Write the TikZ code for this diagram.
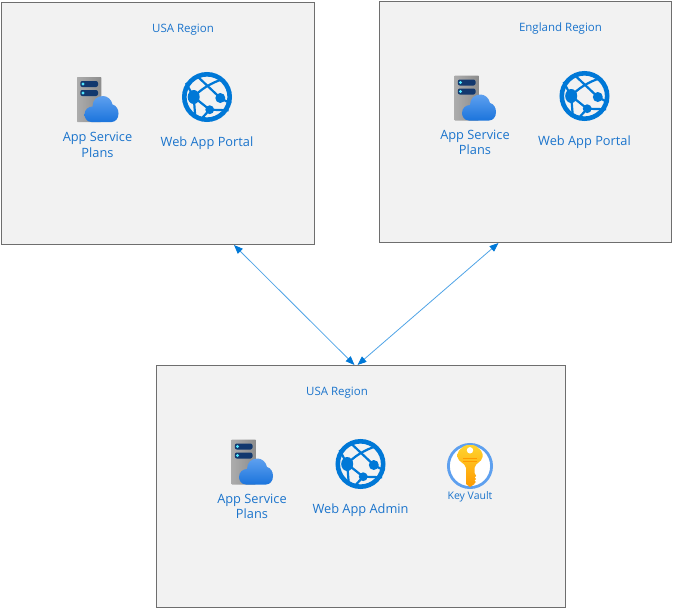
\documentclass[tikz,border=0pt]{standalone}
\usepackage{fontspec}
\setmainfont{Open Sans}
\usepackage{xcolor}
\usetikzlibrary{arrows.meta,positioning}
\definecolor{panelfill}{HTML}{F2F2F2}
\definecolor{panelline}{HTML}{6E6E6E}
\definecolor{azure}{HTML}{0078D7}
\definecolor{azuretext}{HTML}{1B74CC}
\definecolor{azureline}{HTML}{4FA3E6}
\definecolor{cloudtop}{HTML}{5EA0EF}
\definecolor{cloudbot}{HTML}{1B74DC}
\definecolor{slotnavy}{HTML}{12386E}
\definecolor{slotdot}{HTML}{50E6FF}
\definecolor{keygold}{HTML}{FFD42E}
\definecolor{keydark}{HTML}{FF9A00}
\tikzset{
  regionbox/.style={
    rectangle, draw=panelline, fill=panelfill, line width=1pt,
    anchor=north west, inner sep=0pt, minimum width=#1
  },
  regiontitle/.style={text=azuretext, font=\fontsize{11.5}{13}\selectfont, inner sep=0pt},
  iconlabel/.style={text=azuretext, font=\fontsize{12.8}{15.7}\selectfont,
    align=center, inner sep=0pt},
  smalllabel/.style={text=azuretext, font=\fontsize{10.5}{12}\selectfont, inner sep=0pt},
  iconspot/.style={inner sep=0pt, minimum size=0pt},
  linkarrow/.style={
    {Triangle[length=9pt,width=7pt,color=azure]}-{Triangle[length=9pt,width=7pt,color=azure]},
    draw=azureline, line width=0.8pt
  },
  globeline/.style={azure, line width=2.2pt},
  pics/serverplan/.style={code={
    \shade[left color=gray!65!white, right color=gray!90!white, rounded corners=0.7pt]
      (-20.5,-22.5) rectangle (3.8,22.5);
    \fill[slotnavy, rounded corners=2pt] (-17.2,-18.5) rectangle (0.5,-12.5);
    \fill[slotnavy, rounded corners=2pt] (-17.2,-9.5) rectangle (0.5,-3.5);
    \fill[slotdot] (-14.5,-15.5) circle (1.6);
    \fill[slotdot] (-14.5,-6.5) circle (1.6);
    \shade[top color=cloudtop, bottom color=cloudbot]
      (-6,22.5) .. controls (-11,22.5) and (-13,18) .. (-13,15)
      .. controls (-13,10) and (-9,7) .. (-5,7)
      .. controls (-5,0) and (0,-3.5) .. (5.5,-3.5)
      .. controls (10,-3.5) and (14,0) .. (15,5)
      .. controls (19,6) and (21,10) .. (21,14)
      .. controls (21,19) and (18,22.5) .. (14,22.5) -- cycle;
  }},
  pics/webglobe/.style={code={
    \draw[azure, line width=4.6pt] (0,0) circle (22.7);
    \draw[globeline] (-10,-21) -- (13.3,1) -- (24,6.7);
    \draw[globeline] (-13.3,0) .. controls (-6,-8) and (4,-14) .. (16,-18);
    \draw[globeline] (-13.3,0) -- (-21,-14);
    \draw[globeline] (-13.3,0) -- (2.7,12.7) -- (21.7,13.3);
    \draw[globeline] (2.7,12.7) -- (-6.7,23);
    \draw[globeline] (-13.3,0) -- (-11.7,20);
    \fill[azure] (-13.3,0) ellipse (6 and 7);
    \fill[azure] (13.3,1) circle (5);
    \fill[azure] (2.7,12.7) circle (4.4);
  }},
  pics/keyring/.style={code={
    \draw[cloudtop, fill=white, line width=2.8pt] (0,0) circle (21.6);
    \shade[top color=keygold, bottom color=keydark, rounded corners=2pt]
      (-5,-21) -- (5,-21) -- (12.5,-14) -- (12.5,-7) -- (4.5,0) -- (4.5,9)
      [sharp corners] -- (6.2,10) -- (4.5,11.5) -- (6.2,13) -- (4.5,14.5) -- (6,16) -- (4.5,17)
      -- (4.5,18) -- (0,21) -- (-4,18) [rounded corners=2pt] -- (-4,0) -- (-12.5,-7) -- (-12.5,-14) -- cycle;
    \draw[keydark, line width=0.9pt] (-6.7,-7.3) -- (6.7,-7.3);
    \draw[keydark, line width=0.9pt] (-6.7,-4.6) -- (6.7,-4.6);
    \fill[white] (0,-15.7) circle (3.2);
  }},
}
\begin{document}
\begin{tikzpicture}[x=1pt, y=-1pt, node distance=8pt and 12pt]
  \useasboundingbox (0,0) rectangle (673,608);

  % Left region
  \node[regionbox=313pt, minimum height=242pt] (usabox) at (1,2) {};
  \node[regiontitle] (usatitle) at (183,30) {USA Region};
  \node[iconspot] (usaplan) at (97.5,99.5) {};
  \pic at (usaplan) {serverplan};
  \node[iconlabel, below=32.5pt of usaplan] (usaplantext) {App Service\\Plans};
  \node[iconspot] (usaweb) at (207,97) {};
  \pic at (usaweb) {webglobe};
  \node[iconlabel, below=39.5pt of usaweb] (usawebtext) {Web App Portal};

  % Right region
  \node[regionbox=292pt, minimum height=241pt] (engbox) at (379,1) {};
  \node[regiontitle] (engtitle) at (560.5,29) {England Region};
  \node[iconspot] (engplan) at (475,98) {};
  \pic at (engplan) {serverplan};
  \node[iconlabel, below=31.5pt of engplan] (engplantext) {App Service\\Plans};
  \node[iconspot] (engweb) at (584.5,96) {};
  \pic at (engweb) {webglobe};
  \node[iconlabel, below=39.5pt of engweb] (engwebtext) {Web App Portal};

  % Bottom region
  \node[regionbox=409pt, minimum height=242pt] (adminbox) at (156,365) {};
  \node[regiontitle] (admintitle) at (337,393) {USA Region};
  \node[iconspot] (adminplan) at (252,462) {};
  \pic at (adminplan) {serverplan};
  \node[iconlabel, below=31.5pt of adminplan] (adminplantext) {App Service\\Plans};
  \node[iconspot] (adminweb) at (360.5,464) {};
  \pic at (adminweb) {webglobe};
  \node[iconlabel, below=39pt of adminweb] (adminwebtext) {Web App Admin};
  \node[iconspot] (adminkey) at (470,466) {};
  \pic at (adminkey) {keyring};
  \node[smalllabel, below=25.5pt of adminkey] (adminkeytext) {Key Vault};

  % Links
  \coordinate (usaend) at ([xshift=76pt]usabox.south);
  \coordinate (engend) at ([xshift=-27pt]engbox.south);
  \coordinate (hubleft) at ([xshift=-6.5pt]adminbox.north);
  \coordinate (hubright) at ([xshift=-3.5pt]adminbox.north);
  \draw[linkarrow] (usaend) -- (hubleft);
  \draw[linkarrow] (engend) -- (hubright);
\end{tikzpicture}
\end{document}
